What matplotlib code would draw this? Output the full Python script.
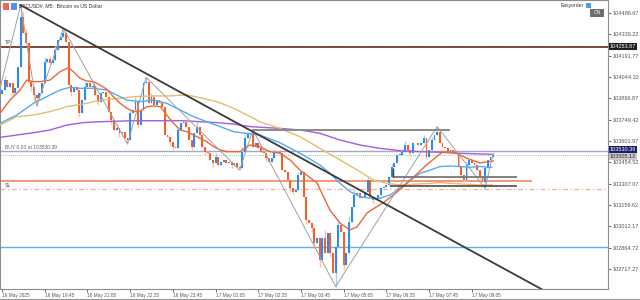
import matplotlib
matplotlib.use('Agg')
import matplotlib.pyplot as plt
from matplotlib.patches import Rectangle
from matplotlib.lines import Line2D

plt.rcParams['font.family'] = ['Liberation Sans', 'DejaVu Sans']

# ---------------- data ----------------
first_open = 103930
closes = [
    103954, 104023, 103973, 104000, 103936, 103966, 104115, 104461, 104346, 104277,
    104012, 103973, 103920, 103897, 103931, 104000, 104150, 104166, 104143, 104161,
    104231, 104300, 104323, 104346, 104288, 103989, 103943, 103973, 103954, 103793,
    103885, 103973, 104000, 103973, 103982, 103920, 103874, 103931, 103943, 103908,
    103805, 103747, 103678, 103689, 103655, 103666, 103620, 103609, 103793, 103816,
    103874, 103712, 103816, 104000, 104012, 103862, 103908, 103851, 103885, 103862,
    103839, 103643, 103632, 103597, 103563, 103551, 103678, 103724, 103735, 103701,
    103609, 103563, 103655, 103701, 103643, 103563, 103528, 103517, 103471, 103448,
    103494, 103436, 103459, 103471, 103448, 103459, 103436, 103448, 103425, 103413,
    103528, 103620, 103655, 103659, 103563, 103586, 103551, 103528, 103517, 103482,
    103459, 103482, 103517, 103528, 103521, 103401, 103390, 103332, 103275, 103252,
    103263, 103367, 103390, 103217, 103056, 103033, 102998, 102895, 102929, 102780,
    102929, 102826, 102964, 102826, 102688, 102872, 103021, 102975, 102745, 102826,
    103045, 103148, 103229, 103240, 103206, 103217, 103252, 103332, 103217, 103194,
    103206, 103229, 103275, 103286, 103298, 103355, 103425, 103448, 103505, 103505,
    103528, 103574, 103540, 103517, 103586, 103590, 103574, 103586, 103620, 103494,
    103540, 103609, 103643, 103666, 103586, 103563, 103551, 103528, 103540, 103517,
    103512, 103425, 103367, 103332, 103436, 103471, 103448, 103436, 103401, 103355,
    103321, 103413, 103471, 103494, 103505,
]
high_ext = {7: 104541, 23: 104380, 54: 104042, 94: 103678, 163: 103701, 184: 103517,
            20: 104260, 48: 103810, 91: 103640, 121: 102990, 137: 103360, 146: 103440,
            1: 104050, 8: 104500, 9: 104380, 16: 104185, 18: 104190, 24: 104340,
            31: 104010, 34: 104010, 43: 103720, 50: 103905, 56: 103935, 66: 103700,
            73: 103730, 80: 103520, 90: 103560, 102: 103545, 111: 103390, 126: 103060,
            130: 103080, 132: 103260, 151: 103600, 158: 103640, 161: 103630, 174: 103460}
low_ext = {13: 103844, 47: 103581, 89: 103401, 125: 102595, 181: 103275,
           29: 103770, 119: 102734, 128: 102711, 117: 102860, 173: 103315,
           4: 103910, 11: 103945, 12: 103880, 26: 103910, 36: 103850, 41: 103720,
           44: 103630, 51: 103690, 63: 103570, 64: 103540, 71: 103540, 76: 103505,
           79: 103425, 86: 103415, 99: 103465, 108: 103250, 109: 103235, 114: 103030,
           116: 102975, 123: 102800, 139: 103175, 153: 103500, 159: 103475, 172: 103345,
           179: 103335}

zz_idx = [-0.75, 7, 13, 23, 47, 54, 89, 94, 125, 163, 181, 184]
zz_price = [103966, 104541, 103844, 104380, 103581, 104042, 103401, 103678, 102595, 103701, 103275, 103517]

trend_idx = [7, 23]
trend_price = [104541, 104380]

ma_red_idx = [-0.75, 3, 6.75, 9.25, 11.75, 14.25, 18, 21.75, 24.9, 26.75,
              29.25, 31.75, 34.25, 36.75, 39.25, 41.75, 44.25, 46.75, 49.25, 51.75,
              54.25, 56.75, 59.25, 61.75, 64.25, 66.75, 69.25, 71.75, 74.25, 76.75,
              79.25, 81.75, 84.25, 86.75, 89.25, 91.75, 92.9, 96.6, 100.4, 104.1,
              107.9, 111.6, 118, 122.8, 126.6, 130.3, 133, 136.7, 140.2, 142.7,
              148, 153, 159, 165, 170, 174, 179, 184]
ma_red = [103793, 103885, 103954, 104023, 104012, 104012, 104023, 104081, 104109, 104081,
          104035, 104016, 104012, 103989, 103959, 103908, 103862, 103828, 103805, 103809,
          103839, 103844, 103839, 103781, 103724, 103678, 103666, 103643, 103620, 103597,
          103563, 103540, 103528, 103528, 103528, 103563, 103574, 103563, 103528, 103517,
          103471, 103401, 103312, 103125, 103035, 102987, 103008, 103104, 103146, 103173,
          103249, 103332, 103436, 103526, 103519, 103484, 103450, 103464]

ma_blue_idx = [-0.75, 5.5, 11.75, 18, 21.75, 25.5, 29.25, 34.25, 39.25, 41.75,
               44.25, 46.75, 51.75, 56.75, 61.75, 66.75, 71.75, 76.75, 81.75, 86.75,
               91.75, 96.6, 104.1, 111.6, 119.1, 122.9, 126.6, 130.4, 134.1, 137.9,
               141.6, 145.4, 149.1, 152.9, 156.6, 160.4, 164.1, 167.9, 171.6, 175.4,
               179.1, 183.5]
ma_blue = [103724, 103781, 103862, 103920, 103954, 103973, 103966, 103966, 103954, 103931,
           103908, 103885, 103874, 103885, 103862, 103816, 103770, 103735, 103701, 103666,
           103655, 103643, 103590, 103517, 103436, 103378, 103309, 103252, 103217, 103206,
           103206, 103229, 103275, 103332, 103378, 103401, 103425, 103429, 103425, 103420,
           103425, 103420]

ma_yellow_idx = [-0.75, 5.5, 11.75, 18, 24.25, 31.75, 36.75, 44.25, 49.25, 55.5,
                 61.75, 69.25, 74.25, 80.5, 86.75, 93, 96.6, 104.1, 111.6, 119.1,
                 126.6, 134.1, 139.1, 144.1, 149.1, 156.6, 164.1, 171.6, 179.1, 183.5]
ma_yellow = [103712, 103770, 103781, 103805, 103839, 103862, 103885, 103897, 103908, 103913,
             103913, 103920, 103901, 103874, 103828, 103770, 103735, 103689, 103632, 103551,
             103471, 103390, 103332, 103309, 103298, 103305, 103314, 103305, 103298, 103298]

ma_purple_idx = [-0.75, 5.5, 11.75, 18, 24.25, 30.5, 36.75, 49.25, 68, 74.25,
                 80.5, 86.75, 93, 104.1, 111.6, 119.1, 126.6, 134.1, 141.6, 149.1,
                 156.6, 164.1, 171.6, 179.1, 183.5]
ma_purple = [103627, 103643, 103659, 103678, 103712, 103729, 103735, 103742, 103742, 103735,
             103729, 103719, 103701, 103689, 103678, 103655, 103609, 103574, 103551, 103535,
             103528, 103524, 103517, 103512, 103510]

price_ticks = [104486.67, 104339.22, 104191.77, 104044.32, 103896.87, 103749.42, 103601.97,
               103454.52, 103307.07, 103159.62, 103012.17, 102864.72, 102717.27]
time_tick_bars = [0, 16, 32, 48, 64, 80, 96, 112, 128, 144, 160, 176]
time_labels = ['16 May 2025', '16 May 19:45', '16 May 21:05', '16 May 22:25', '16 May 23:45',
               '17 May 01:05', '17 May 02:25', '17 May 03:45', '17 May 05:05', '17 May 06:25',
               '17 May 07:45', '17 May 09:05']

tp_price = 104255
buy_price = 103533
bid_price = 103505
entry_zone_price = 103325
sl_price = 103270
support_price = 102866
res_price = 103678
res_range = (93.5, 168)
box_top = 103352
box_bottom = 103291
box_range = (145.5, 193)
box_left_top = 103414
orange_end = 198.5

tp_label = '104253.87'
buy_label = '103530.39'
bid_label = '103505.12'
buy_text = 'BUY 0.03 at 103530.39'

# ---------------- figure ----------------
W, H = 640, 300
fig = plt.figure(figsize=(6.4, 3.0), dpi=100)
fig.patch.set_facecolor('white')
ax = fig.add_axes([0.0, 11 / H, 608 / W, 289 / H])
ax.set_xlim(-0.75, 227)
ax.set_ylim(102578.7, 104576.5)
ax.set_facecolor('white')
for s in ax.spines.values():
    s.set_color('#8c8c8c')
    s.set_linewidth(0.8)

BULL = '#2a8cf0'
BEAR = '#f4602a'
BULL_W = '#a9d2f7'
BEAR_W = '#f9c0ac'

# horizontal levels (behind candles)
xmin, xmax = -0.75, 227
ax.hlines(support_price, xmin, xmax, color='#5ab0f2', lw=1.0, zorder=1)
ax.hlines(sl_price, xmin, xmax, color='#f6b09a', lw=0.9, linestyles=(0, (4, 2, 1, 2)), zorder=1)
ax.hlines(entry_zone_price, xmin, orange_end, color='#f5906a', lw=1.3, zorder=1)
ax.hlines(buy_price, xmin, xmax, color='#a9a4d2', lw=1.0, zorder=1)
ax.hlines(bid_price, xmin, xmax, color='#7cbf6a', lw=0.6, linestyles=(0, (1, 1.5)), zorder=1)
ax.hlines(tp_price, xmin, xmax, color='#5b3a32', lw=1.3, zorder=1)
ax.hlines(tp_price, xmin, xmax, color='#e0452a', lw=0.6, linestyles=(0, (1, 2)), zorder=1)

# candles
opens = [first_open] + closes[:-1]
for i, (o, c) in enumerate(zip(opens, closes)):
    hi = max(high_ext.get(i, max(o, c)), max(o, c))
    lo = min(low_ext.get(i, min(o, c)), min(o, c))
    bull = c >= o
    wc = BULL_W if bull else BEAR_W
    ax.vlines(i, lo, hi, color=wc, lw=1.0, zorder=2)
    bottom = min(o, c)
    height = max(abs(c - o), 4)
    ax.add_patch(Rectangle((i - 0.36, bottom), 0.72, height,
                           facecolor=BULL if bull else BEAR, edgecolor='none', zorder=3))

# moving averages
ax.plot(ma_purple_idx, ma_purple, color='#a25ce6', lw=1.0, zorder=4)
ax.plot(ma_yellow_idx, ma_yellow, color='#e9bc6a', lw=1.0, zorder=4)
ax.plot(ma_blue_idx, ma_blue, color='#56a9f2', lw=1.0, zorder=4)
ax.plot(ma_red_idx, ma_red, color='#f26436', lw=1.0, zorder=4)

# zigzag
ax.plot(zz_idx, zz_price, color='#a0a0a0', lw=0.7, zorder=5)

# resistance line and box lines
ax.hlines(res_price, res_range[0], res_range[1], color='#8a8a8a', lw=1.4, zorder=5)
ax.hlines(box_top, box_range[0] + 1, box_range[1], color='#777777', lw=1.3, zorder=5)
ax.hlines(box_bottom, box_range[0], box_range[1], color='#3c3c3c', lw=1.1, zorder=5)
ax.vlines(box_range[0] + 1, box_top, box_left_top, color='#3c3c3c', lw=1.0, zorder=5)

# trend line (ray)
slope = (trend_price[1] - trend_price[0]) / (trend_idx[1] - trend_idx[0])
x_end = 230
ax.plot([trend_idx[0], x_end], [trend_price[0], trend_price[0] + slope * (x_end - trend_idx[0])],
        color='#3a3a3a', lw=1.3, zorder=6)

# axes ticks
ax.yaxis.tick_right()
ax.set_yticks(price_ticks)
ax.set_yticklabels([f'{p:.2f}' for p in price_ticks])
ax.tick_params(axis='y', length=2, width=0.6, pad=1, labelsize=4.0, colors='#555555')
ax.set_xticks(time_tick_bars)
ax.set_xticklabels(time_labels)
ax.tick_params(axis='x', length=2, width=0.6, pad=1, labelsize=3.4, colors='#555555')
for lbl in ax.get_xticklabels():
    lbl.set_horizontalalignment('left')

# in-chart text labels
ax.text(1.0, tp_price + 12, 'TP', fontsize=3.8, color='#444444', va='bottom', ha='left', zorder=7)
ax.text(1.0, buy_price + 8, buy_text, fontsize=3.6, color='#666666', va='bottom', ha='left', zorder=7)
ax.text(1.0, sl_price + 10, 'SL', fontsize=3.8, color='#555555', va='bottom', ha='left', zorder=7)

# price boxes on the right axis
def price_box(price, text, fc, tc):
    ax.text(1.003, price, text, transform=ax.get_yaxis_transform(), fontsize=4.0,
            color=tc, va='center', ha='left',
            bbox=dict(boxstyle='square,pad=0.15', fc=fc, ec='none'), zorder=8, clip_on=False)

price_box(tp_price, tp_label, '#1e1e1e', 'white')
price_box(bid_price - 10, bid_label, '#c8c8c8', '#333333')
price_box(buy_price + 8, buy_label, '#1a1f6e', 'white')

# header: icons and symbol title
fig.patches.append(Rectangle((3 / W, 1 - 10 / H), 6 / W, 7 / H, transform=fig.transFigure,
                             facecolor='#e86a5a', edgecolor='none'))
fig.patches.append(Rectangle((11 / W, 1 - 10 / H), 6 / W, 7 / H, transform=fig.transFigure,
                             facecolor='#5a8ee8', edgecolor='none'))
fig.text(19 / W, 1 - 6 / H, 'BTCUSD#, M5:  Bitcoin vs US Dollar', fontsize=3.7, color='#333333',
         va='center', ha='left')

# Easyorder widget
fig.text(584 / W, 1 - 5 / H, 'Easyorder', fontsize=3.6, color='#333333', va='center', ha='right')
fig.patches.append(Rectangle((586 / W, 1 - 8 / H), 5 / W, 5 / H, transform=fig.transFigure,
                             facecolor='#4aa0e8', edgecolor='none'))
fig.patches.append(Rectangle((590 / W, 1 - 17 / H), 14 / W, 8 / H, transform=fig.transFigure,
                             facecolor='#6e6e6e', edgecolor='none'))
fig.text(597 / W, 1 - 13 / H, 'ON', fontsize=3.4, color='white', va='center', ha='center')

# bottom border line
fig.add_artist(Line2D([0, 1], [1.5 / H, 1.5 / H], color='#9a9a9a', lw=0.8))

fig.savefig('out.png', dpi=100, facecolor='white')
